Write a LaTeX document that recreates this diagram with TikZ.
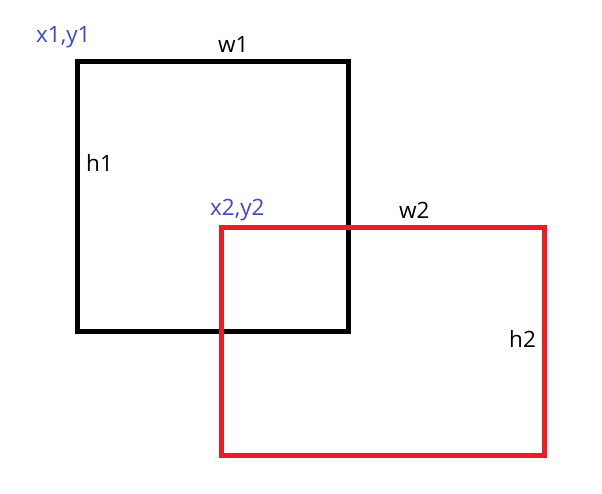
\documentclass[tikz,border=0pt]{standalone}
\usepackage{fontspec}
\setmainfont{Open Sans}
\definecolor{paintred}{RGB}{237,28,36}
\definecolor{paintblue}{RGB}{63,72,204}
\tikzset{
	box/.style={line width=5pt},
	corner/.style={text=paintblue, anchor=base west, inner sep=0pt},
	side/.style={anchor=base west, inner sep=0pt}
}
\begin{document}
\begin{tikzpicture}[x=1pt, y=-1pt, font=\fontsize{22.5}{27}\selectfont, line join=miter]
	\useasboundingbox (0,0) rectangle (602,493);
	\coordinate (a1) at (77.5,61);
	\coordinate (b1) at (348,331.5);
	\coordinate (a2) at (221,227);
	\coordinate (b2) at (544,455);
	\draw[box, black] (a1) rectangle (b1);
	\draw[box, paintred] (a2) rectangle (b2);
	\node[corner] (xy1) at (36,42) {x1,y1};
	\node[side] (w1) at (218,52.5) {w1};
	\node[side] (h1) at (86,171) {h1};
	\node[corner] (xy2) at (210,215.5) {x2,y2};
	\node[side] (w2) at (399,218.5) {w2};
	\node[side] (h2) at (509,347) {h2};
\end{tikzpicture}
\end{document}
